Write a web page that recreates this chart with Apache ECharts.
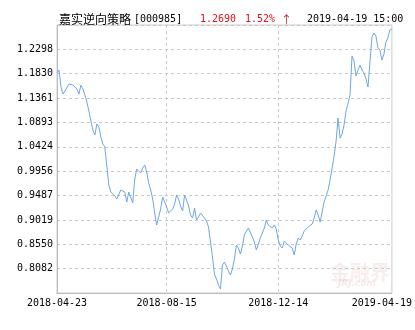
<!DOCTYPE html>
<html>
<head>
<meta charset="utf-8">
<script src="https://cdn.jsdelivr.net/npm/echarts@6/dist/echarts.min.js"></script>
<style>
html,body{margin:0;padding:0;background:#fff;}
#c{width:415px;height:330px;}
</style>
</head>
<body>
<div id="c"></div>
<script>
// ---- data ----
const fundName = '嘉实逆向策略';
const fundCode = '[000985]';
const lastNav = '1.2690';
const lastChange = '1.52%';
const lastArrow = '↑';
const lastTime = '2019-04-19 15:00';

const xTickLabels = ['2018-04-23', '2018-08-15', '2018-12-14', '2019-04-19'];
const xTickIndex = [0, 55, 111, 168];

const navValues = [
  1.1843, 1.1901, 1.1574, 1.1439, 1.1497, 1.1478, 1.1632, 1.1670, 1.1612, 1.1574,
  1.1535, 1.1439, 1.1612, 1.1535, 1.1420, 1.1285, 1.1112, 1.0920, 1.0747, 1.0651,
  1.0863, 1.0805, 1.0613, 1.0478, 1.0420, 1.0382, 0.9690, 0.9555, 0.9536, 0.9478,
  0.9420, 0.9382, 0.9594, 0.9632, 0.9555, 0.9363, 0.9555, 0.9536, 0.9344, 0.9805,
  0.9997, 1.0017, 0.9920, 1.0017, 1.0074, 0.9940, 0.9728, 0.9594, 0.9420, 0.9151,
  0.8921, 0.9074, 0.9228, 0.9459, 0.9497, 0.9267, 0.9151, 0.9113, 0.9228, 0.9324,
  0.9497, 0.9420, 0.9286, 0.9190, 0.9497, 0.9401, 0.9286, 0.9113, 0.9055, 0.9247,
  0.9017, 0.9074, 0.9151, 0.9113, 0.9055, 0.8998, 0.8882, 0.8594, 0.8305, 0.7978,
  0.7882, 0.7767, 0.7690, 0.8152, 0.8209, 0.8132, 0.8036, 0.7959, 0.8075, 0.8267,
  0.8536, 0.8478, 0.8363, 0.8517, 0.8728, 0.8805, 0.8863, 0.8882, 0.8690, 0.8594,
  0.8440, 0.8459, 0.8671, 0.8767, 0.8863, 0.9017, 0.8921, 0.8959, 0.8863, 0.8921,
  0.8844, 0.8632, 0.8517, 0.8478, 0.8613, 0.8594, 0.8536, 0.8517, 0.8478, 0.8344,
  0.8555, 0.8671, 0.8632, 0.8709, 0.8805, 0.8805, 0.8882, 0.8863, 0.8940, 0.9055,
  0.9209, 0.9113, 0.8978, 0.8940, 0.9363, 0.9478, 0.9594, 0.9786, 1.0017, 1.0247,
  1.0536, 1.0978, 1.0593, 1.0670, 1.0843, 1.1112, 1.1266, 1.1420, 1.2170, 1.2074,
  1.1785, 1.1901, 1.1997, 1.1901, 1.1843, 1.1728, 1.1574, 1.1555, 1.2535, 1.2612,
  1.2555, 1.2324, 1.2285, 1.2093, 1.2208, 1.2439, 1.2516, 1.2670, 1.2690
];

const yMin = 0.761356;
const yStep = 0.046844;
const yMax = 1.27664; // yMin + 11 steps

// ---- chart ----
const categories = navValues.map((_, i) => i);
const mono = 'DejaVu Sans Mono';
const red = '#e0101a';
const chart = echarts.init(document.getElementById('c'), null, {renderer: 'canvas'});

chart.setOption({
  backgroundColor: '#fff',
  animation: false,
  title: [
    {text: fundName, left: 54, top: 8, textStyle: {fontFamily: 'Noto Sans CJK SC', fontSize: 12, fontWeight: 'normal', color: '#000'}},
    {text: fundCode, left: 129, top: 9, textStyle: {fontFamily: mono, fontSize: 10, fontWeight: 'normal', color: '#000'}},
    {text: lastNav, left: 195, top: 9, textStyle: {fontFamily: mono, fontSize: 10, fontWeight: 'normal', color: red}},
    {text: lastChange + ' {a|' + lastArrow + '}', left: 240, top: 9, textStyle: {fontFamily: mono, fontSize: 10, fontWeight: 'normal', color: red,
      rich: {a: {fontFamily: 'Noto Sans CJK SC', fontSize: 11, color: red}}}},
    {text: lastTime, left: 302, top: 9, textStyle: {fontFamily: mono, fontSize: 10, fontWeight: 'normal', color: '#000'}}
  ],
  grid: {left: 57, right: 23, top: 25, bottom: 37, show: true, borderColor: '#ccc', borderWidth: 1},
  xAxis: {
    type: 'category',
    data: categories,
    boundaryGap: false,
    axisLine: {lineStyle: {color: '#bbb'}},
    axisTick: {show: false},
    axisLabel: {
      interval: (idx) => xTickIndex.includes(idx),
      margin: 5,
      fontFamily: mono,
      fontSize: 10,
      color: '#000',
      formatter: (v, idx) => {
        const k = xTickIndex.indexOf(Number(v));
        if (k < 0) return '';
        return k === xTickLabels.length - 1 ? '{r|' + xTickLabels[k] + '}' : xTickLabels[k];
      },
      rich: {r: {fontFamily: mono, fontSize: 10, color: '#000', padding: [0, 20, 0, 0]}}
    },
    splitLine: {
      show: true,
      interval: (idx) => idx === xTickIndex[1] || idx === xTickIndex[2],
      lineStyle: {color: '#c8c8c8', type: [3, 3]}
    }
  },
  yAxis: {
    type: 'value',
    min: yMin,
    max: yMax,
    interval: yStep,
    axisLine: {show: true, lineStyle: {color: '#bbb'}},
    axisTick: {show: false},
    axisLabel: {
      showMinLabel: false,
      showMaxLabel: false,
      margin: 4,
      fontFamily: mono,
      fontSize: 10,
      color: '#000',
      formatter: (v) => (Math.abs(v - yMin) < 1e-4 || Math.abs(v - yMax) < 1e-4) ? '' : v.toFixed(4)
    },
    splitLine: {lineStyle: {color: '#c8c8c8', type: [3, 3]}}
  },
  graphic: [
    {type: 'text', left: 330, top: 262, z: 0, style: {text: '金融界', font: 'bold 20px "Noto Sans CJK SC"', fill: 'rgba(210,140,140,0.16)'}},
    {type: 'text', left: 338, top: 279, z: 0, style: {text: 'JRJ.com', font: 'italic bold 9px "DejaVu Sans"', fill: 'rgba(210,140,140,0.2)'}}
  ],
  series: [{
    type: 'line',
    data: navValues,
    showSymbol: false,
    symbol: 'none',
    smooth: false,
    lineStyle: {color: '#6fa6e6', width: 1},
    z: 3
  }]
});
</script>
</body>
</html>
